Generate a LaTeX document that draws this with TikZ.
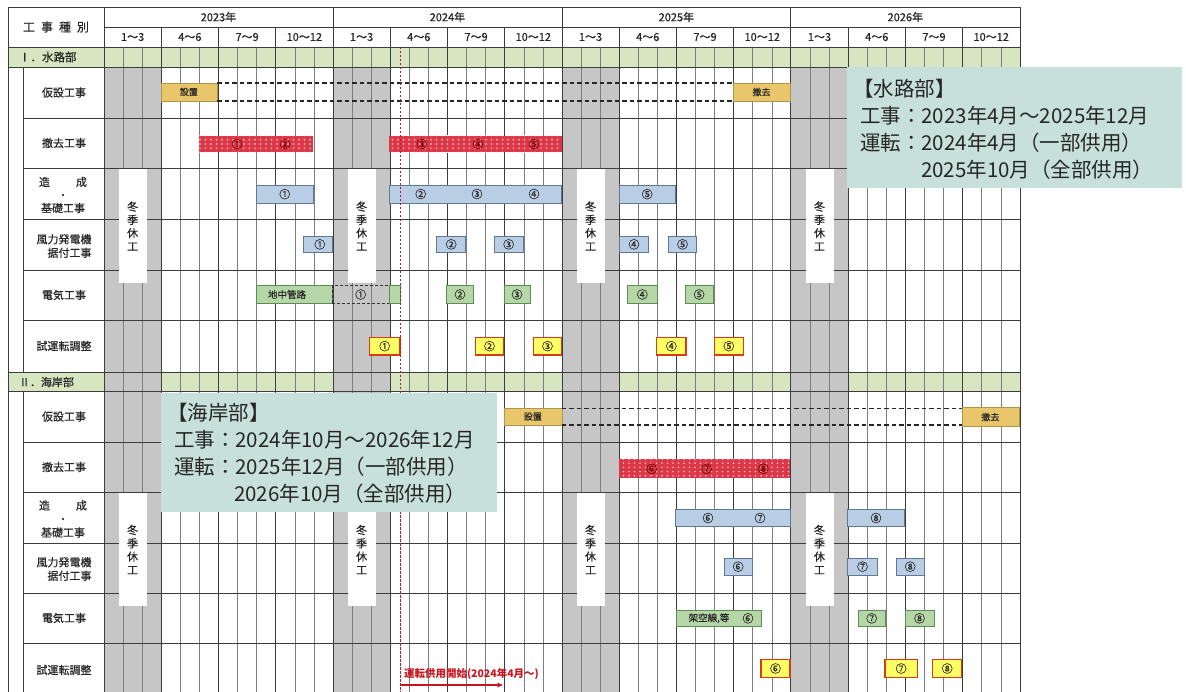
\documentclass[tikz,border=0pt]{standalone}
\usepackage{fontspec}
\setmainfont{Noto Sans CJK JP}
\newfontfamily\medj{Noto Sans CJK JP}[FakeBold=0.5]
\usetikzlibrary{patterns,arrows.meta}
\pgfdeclarepatternformonly{wdots}{\pgfqpoint{-1pt}{-1pt}}{\pgfqpoint{5pt}{5pt}}{\pgfqpoint{5.5pt}{4.2pt}}{\pgfpathcircle{\pgfqpoint{2pt}{2pt}}{0.8pt}\pgfusepath{fill}}
\definecolor{secgreen}{RGB}{215,230,192}
\definecolor{wgray}{RGB}{198,198,198}
\definecolor{callout}{RGB}{199,224,219}
\definecolor{bblue}{RGB}{185,205,228}
\definecolor{bblueD}{RGB}{95,120,150}
\definecolor{bgreen}{RGB}{181,214,167}
\definecolor{bgreenD}{RGB}{95,140,85}
\definecolor{byellow}{RGB}{255,255,100}
\definecolor{borange}{RGB}{215,60,25}
\definecolor{btan}{RGB}{233,198,105}
\definecolor{bred}{RGB}{222,55,72}
\definecolor{gridD}{RGB}{60,60,60}
\definecolor{gridL}{RGB}{125,125,125}
\definecolor{redline}{RGB}{200,20,30}
\newcommand\fsz[1]{\fontsize{#1}{#1}\selectfont}
\newcommand\gb[7]{\node[#2, minimum width={(#5-#3)*1pt}, minimum height={(#6-#4)*1pt}] (#1) at ({(#3+#5)/2},{(#4+#6)/2}) {#7};}
\def\X{104}
\def\M{19.08}
\tikzset{
  every node/.style={inner sep=0pt, outer sep=0pt, text=black!85},
  tanbox/.style={fill=btan, draw=btan!75!black, line width=0.4pt, font=\medj\fsz{9}},
  bluebox/.style={fill=bblue, draw=bblueD, line width=0.6pt, font=\medj\fsz{11}},
  greenbox/.style={fill=bgreen, draw=bgreenD, line width=0.6pt, font=\medj\fsz{11}},
  dashbox/.style={draw=black!80, line width=0.9pt, dash pattern=on 3pt off 2pt, font=\medj\fsz{11}},
  yelbox/.style={fill=byellow, draw=borange, line width=1.3pt, font=\medj\fsz{11}},
  redbox/.style={fill=bred, postaction={pattern=wdots, pattern color=white!90!red}},
  redlab/.style={font=\medj\fsz{11}, text=red!45!black},
  barlab/.style={font=\medj\fsz{11}},
  winter/.style={fill=white, minimum width=28pt, font={\medj\fontsize{11}{13.3}\selectfont}, align=center},
  rowlab/.style={font=\medj\fsz{11}, align=center},
  hdr/.style={font=\medj\fsz{11}},
  majline/.style={draw=gridD, line width=0.8pt},
  minline/.style={draw=gridL, line width=0.5pt},
  callbox/.style={fill=callout},
  calltext/.style={font=\fsz{20.5}, anchor=west, text=black!85},
  tempdash/.style={draw=black!85, line width=1.1pt, dash pattern=on 4.5pt off 3pt}
}
\begin{document}
\begin{tikzpicture}[x=1pt,y=-1pt]
\useasboundingbox (0,0) rectangle (1186,692);
\fill[white] (0,0) rectangle (1186,692);
% section header rows
\fill[secgreen] (8,47) rectangle (1020,67);
\fill[secgreen] (8,372) rectangle (1020,391);
% winter columns
\foreach \k in {0,1,2,3}{
  \fill[wgray] ({\X+12*\k*\M},67) rectangle ({\X+(12*\k+3)*\M},692);
}
% month lines
\foreach \i in {1,...,47}{
  \pgfmathtruncatemacro\r{mod(\i,3)}
  \ifnum\r>0 \draw[minline] ({\X+\i*\M},47) -- ({\X+\i*\M},692);\fi
}
% quarter lines
\foreach \i in {3,6,9,15,18,21,27,30,33,39,42,45}{
  \draw[majline] ({\X+\i*\M},27) -- ({\X+\i*\M},692);
}
% year lines
\foreach \i in {0,12,24,36}{
  \draw[majline] ({\X+\i*\M},7) -- ({\X+\i*\M},692);
}
\draw[majline] (1020,7) -- (1020,692);
\draw[majline] (8,7) -- (8,692);
\draw[majline] (23,67) -- (23,372);
\draw[majline] (23,391) -- (23,692);
% horizontal lines
\draw[majline] (8,7) -- (1020,7);
\draw[majline] (104,27) -- (1020,27);
\foreach \y in {47,67,372,391}{\draw[majline] (8,\y) -- (1020,\y);}
\foreach \y in {118,168,219,270,320,442,492,543,593,643}{\draw[majline] (23,\y) -- (1020,\y);}
% header texts
\node[font=\medj\fsz{12}] (hkind) at (56,27) {工\hspace{6pt}事\hspace{6pt}種\hspace{6pt}別};
\foreach \yr [count=\k from 0] in {2023,2024,2025,2026}{
  \node[hdr] (year\k) at ({\X+(12*\k+6)*\M},17) {\yr 年};
  \node[hdr] (q\k a) at ({\X+(12*\k+1.5)*\M},37) {1～3};
  \node[hdr] (q\k b) at ({\X+(12*\k+4.5)*\M},37) {4～6};
  \node[hdr] (q\k c) at ({\X+(12*\k+7.5)*\M},37) {7～9};
  \node[hdr] (q\k d) at ({\X+(12*\k+10.5)*\M},37) {10～12};
}
% section labels
\node[anchor=west, font=\medj\fsz{11.5}] (sec1) at (19,57) {Ⅰ．水路部};
\node[anchor=west, font=\medj\fsz{11}] (sec2) at (19,382) {Ⅱ．海岸部};
% row labels section I
\node[rowlab] (l1a) at (64,92.5) {仮設工事};
\node[rowlab] (l1b) at (64,143) {撤去工事};
\node[rowlab, font={\medj\fontsize{11}{13}\selectfont}] (l1c) at (63,195) {造\hspace{26pt}成\\・\\基礎工事};
\node[rowlab, align=right, font={\medj\fontsize{11}{13.5}\selectfont}] (l1d) at (64,246) {風力発電機\\据付工事};
\node[rowlab] (l1e) at (64,295) {電気工事};
\node[rowlab] (l1f) at (64,346) {試運転調整};
% row labels section II
\node[rowlab] (l2a) at (64,416.5) {仮設工事};
\node[rowlab] (l2b) at (64,467) {撤去工事};
\node[rowlab, font={\medj\fontsize{11}{13.5}\selectfont}] (l2c) at (63,519) {造\hspace{26pt}成\\・\\基礎工事};
\node[rowlab, align=right, font={\medj\fontsize{11}{13.5}\selectfont}] (l2d) at (64,569) {風力発電機\\据付工事};
\node[rowlab] (l2e) at (64,618) {電気工事};
\node[rowlab] (l2f) at (64,670) {試運転調整};
% winter boxes
\foreach \k in {0,1,2,3}{
  \node[winter, minimum height=114pt] (w1\k) at ({\X+(12*\k+1.5)*\M},226) {冬\\季\\休\\工};
  \node[winter, minimum height=113pt] (w2\k) at ({\X+(12*\k+1.5)*\M},549.5) {冬\\季\\休\\工};
}
% ===== Section I bars
\gb{set1}{tanbox}{160.7}{83}{217}{101}{設置}
\gb{tek1}{tanbox}{733}{83}{790}{101}{撤去}
\draw[tempdash] (set1.north east) -- (tek1.north west);
\draw[tempdash] (set1.south east) -- (tek1.south west);
\gb{rA}{redbox}{199}{135.7}{313}{152.3}{}
\node[redlab] (rA1) at (237,144) {①};
\node[redlab] (rA2) at (285,144) {②};
\gb{rB}{redbox}{389}{135.7}{561.7}{152.3}{}
\node[redlab] (rB3) at (421.7,144) {③};
\node[redlab] (rB4) at (478,144) {④};
\node[redlab] (rB5) at (534,144) {⑤};
\gb{bA}{bluebox}{256.5}{185}{313}{203.3}{①}
\gb{bB}{bluebox}{389}{185}{561.7}{203.3}{}
\node[barlab] (bB2) at (420.7,194) {②};
\node[barlab] (bB3) at (477,194) {③};
\node[barlab] (bB4) at (534,194) {④};
\gb{bC}{bluebox}{619.3}{185}{675}{203.3}{⑤}
\gb{wd1}{bluebox}{303.3}{236}{332.3}{252.7}{\hspace{4pt}①}
\gb{wd2}{bluebox}{436.7}{236}{465.7}{252.7}{②}
\gb{wd3}{bluebox}{494}{236}{523.3}{252.7}{③}
\gb{wd4}{bluebox}{619.3}{236}{648.7}{252.7}{④}
\gb{wd5}{bluebox}{668.3}{236}{696.7}{252.7}{⑤}
\gb{el0}{greenbox}{256}{285.7}{332.3}{303.3}{}
\node[font=\medj\fsz{9.5}] (el0t) at (287,294.5) {地中管路};
\gb{el1d}{dashbox}{332.3}{285.7}{389}{303.3}{①}
\gb{el1g}{greenbox}{389}{285.7}{400}{303.3}{}
\gb{el2}{greenbox}{446.7}{285.7}{473.3}{303.3}{②}
\gb{el3}{greenbox}{504}{285.7}{530}{303.3}{③}
\gb{el4}{greenbox}{627.3}{285.7}{657.3}{303.3}{④}
\gb{el5}{greenbox}{685}{285.7}{713.3}{303.3}{⑤}
\gb{ts1}{yelbox}{369.3}{337.3}{400}{355}{①}
\gb{ts2}{yelbox}{475.7}{337.3}{503.3}{355}{②}
\gb{ts3}{yelbox}{533.3}{337.3}{561.7}{355}{③}
\gb{ts4}{yelbox}{656.7}{337.3}{686}{355}{④}
\gb{ts5}{yelbox}{714.3}{337.3}{743.3}{355}{⑤}
% ===== Section II bars
\gb{set2}{tanbox}{504}{408.3}{561.7}{425}{設置}
\gb{tek2}{tanbox}{961.7}{407.5}{1019}{426.5}{撤去}
\draw[tempdash] (set2.north east) -- (tek2.north west |- set2.north east);
\draw[tempdash] (set2.south east) -- (tek2.south west |- set2.south east);
\gb{rC}{redbox}{619.3}{459.3}{790}{478.3}{}
\node[redlab] (rC6) at (651.7,468.8) {⑥};
\node[redlab] (rC7) at (706.7,468.8) {⑦};
\node[redlab] (rC8) at (763.3,468.8) {⑧};
\gb{bD}{bluebox}{675}{509.3}{790.7}{526.7}{}
\node[barlab] (bD6) at (708,518) {⑥};
\node[barlab] (bD7) at (760,518) {⑦};
\gb{bE}{bluebox}{847.7}{509.3}{904.3}{526.7}{⑧}
\gb{wd6}{bluebox}{724}{558.3}{752.3}{575}{⑥}
\gb{wd7}{bluebox}{847.7}{558.3}{877.3}{575}{⑦}
\gb{wd8}{bluebox}{896}{558.3}{924.3}{575}{⑧}
\gb{el6}{greenbox}{676.7}{610}{761.7}{626.7}{}
\node[font=\medj\fsz{9.5}] (el6t) at (709,618.3) {架空線,等};
\node[barlab] (el6n) at (748,618.3) {⑥};
\gb{el7}{greenbox}{858.3}{610}{885}{626.7}{⑦}
\gb{el8}{greenbox}{905}{610}{934}{626.7}{⑧}
\gb{ts6}{yelbox}{761}{659.3}{790}{677.7}{⑥}
\gb{ts7}{yelbox}{885}{659.3}{917.3}{677.7}{⑦}
\gb{ts8}{yelbox}{932.7}{659.3}{961.7}{677.7}{⑧}
% red start line
\coordinate (rtop) at (400,47);
\coordinate (rbot) at (400,692);
\draw[redline, line width=1pt, dash pattern=on 2.5pt off 1.5pt] (rtop) -- (rbot);
\coordinate (astart) at (400,685);
\coordinate (aend) at (503,685);
\draw[redline, line width=1.2pt, -{Stealth[length=6pt,width=5pt]}] (astart) -- (aend);
\node[anchor=west, text=redline, font=\fsz{10.5}\bfseries] (optext) at (404,674) {運転供用開始(2024年4月～)};
% callouts
\gb{cw}{callbox}{846.7}{66.7}{1181.7}{188.3}{}
\node[calltext] (cw1) at (853,89) {【水路部】};
\node[calltext] (cw2) at (860,116) {工事：2023年4月～2025年12月};
\node[calltext] (cw3) at (860,143) {運転：2024年4月（一部供用）};
\node[calltext] (cw4) at (921,170) {2025年10月（全部供用）};
\gb{cs}{callbox}{161}{392.7}{497.3}{511.7}{}
\node[calltext] (cs1) at (167,413) {【海岸部】};
\node[calltext] (cs2) at (174,440) {工事：2024年10月～2026年12月};
\node[calltext] (cs3) at (174,467) {運転：2025年12月（一部供用）};
\node[calltext] (cs4) at (234,494) {2026年10月（全部供用）};
\end{tikzpicture}
\end{document}
